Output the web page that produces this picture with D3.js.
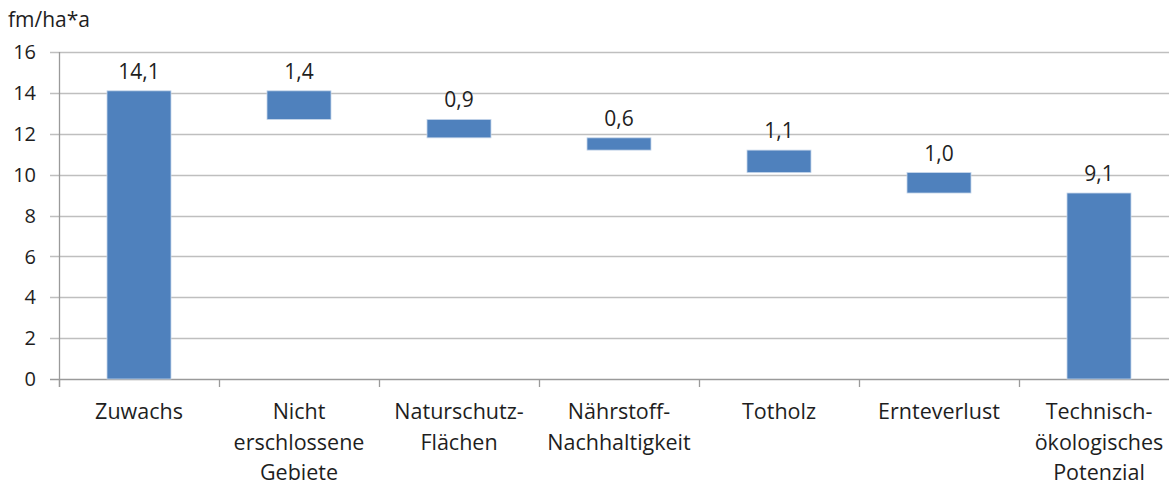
<!DOCTYPE html>
<html>
<head>
<meta charset="utf-8">
<script src="https://cdn.jsdelivr.net/npm/d3@7"></script>
<style>
  body { margin: 0; background: #fff; }
  svg text { font-family: "Open Sans", sans-serif; fill: #1e1e1e; }
</style>
</head>
<body>
<svg id="chart"></svg>
<script>
// categories (lines of each label), values, bar type
const categories = [
  ['Zuwachs'],
  ['Nicht', 'erschlossene', 'Gebiete'],
  ['Naturschutz-', 'Flächen'],
  ['Nährstoff-', 'Nachhaltigkeit'],
  ['Totholz'],
  ['Ernteverlust'],
  ['Technisch-', 'ökologisches', 'Potenzial']
];
const values = [14.1, 1.4, 0.9, 0.6, 1.1, 1.0, 9.1];
const kinds = ['total', 'minus', 'minus', 'minus', 'minus', 'minus', 'total'];
const yTicks = [0, 2, 4, 6, 8, 10, 12, 14, 16];
const unitLabel = 'fm/ha*a';

const width = 1169;
const height = 486;

// waterfall steps
let level = 0;
const bars = values.map((v, i) => {
  let lo, hi;
  if (kinds[i] === 'total') {
    lo = 0; hi = v; level = v;
  } else {
    hi = level; lo = level - v; level = lo;
  }
  return { i, v, lo, hi };
});

const svg = d3.select('#chart')
  .attr('width', width)
  .attr('height', height);

const x = d3.scaleBand()
  .domain(d3.range(categories.length))
  .range([59, 59 + 160 * categories.length])
  .paddingInner(0.6)
  .paddingOuter(0.3);

const y = d3.scaleLinear()
  .domain([0, 16])
  .range([379, 52]);

// gridlines
svg.append('g')
  .selectAll('line')
  .data(yTicks)
  .enter().append('line')
  .attr('x1', 50)
  .attr('x2', width)
  .attr('y1', d => Math.round(y(d)) + 0.5)
  .attr('y2', d => Math.round(y(d)) + 0.5)
  .attr('stroke', d => (d === 0 ? '#9a9a9a' : '#bfbfbf'))
  .attr('stroke-width', 1.3);

// y axis line
svg.append('line')
  .attr('x1', 59.5).attr('x2', 59.5)
  .attr('y1', y(16)).attr('y2', y(0) + 8)
  .attr('stroke', '#9a9a9a')
  .attr('stroke-width', 1.3);

// x category ticks
const step = x.step();
svg.append('g')
  .selectAll('line')
  .data(d3.range(categories.length + 1))
  .enter().append('line')
  .attr('x1', d => Math.round(59 + d * step) + 0.5)
  .attr('x2', d => Math.round(59 + d * step) + 0.5)
  .attr('y1', y(0))
  .attr('y2', y(0) + 8)
  .attr('stroke', '#9a9a9a')
  .attr('stroke-width', 1.3);

// y tick labels
svg.append('g')
  .selectAll('text')
  .data(yTicks)
  .enter().append('text')
  .attr('x', 36)
  .attr('y', d => y(d))
  .attr('dy', '0.36em')
  .attr('text-anchor', 'end')
  .style('font-size', '20px')
  .text(d => d);

// unit label
svg.append('text')
  .attr('x', 8)
  .attr('y', 27)
  .style('font-size', '21px')
  .text(unitLabel);

// bars
svg.append('g')
  .selectAll('rect')
  .data(bars)
  .enter().append('rect')
  .attr('x', d => x(d.i))
  .attr('width', x.bandwidth())
  .attr('y', d => y(d.hi))
  .attr('height', d => y(d.lo) - y(d.hi))
  .attr('fill', '#4f81bd')
  .attr('stroke', '#c6d6ea')
  .attr('stroke-width', 0.8);

// value labels
const fmt = d3.format('.1f');
svg.append('g')
  .selectAll('text')
  .data(bars)
  .enter().append('text')
  .attr('x', d => x(d.i) + x.bandwidth() / 2)
  .attr('y', d => y(d.hi) - 12)
  .attr('text-anchor', 'middle')
  .style('font-size', '21px')
  .text(d => fmt(d.v).replace('.', ','));

// category labels
const cat = svg.append('g')
  .selectAll('text')
  .data(categories)
  .enter().append('text')
  .attr('text-anchor', 'middle')
  .attr('transform', (d, i) => `translate(${x(i) + x.bandwidth() / 2},419)`)
  .style('font-size', '21.5px');

cat.selectAll('tspan')
  .data(d => d)
  .enter().append('tspan')
  .attr('x', 0)
  .attr('y', (d, j) => j * 30.5)
  .text(d => d);
</script>
</body>
</html>
